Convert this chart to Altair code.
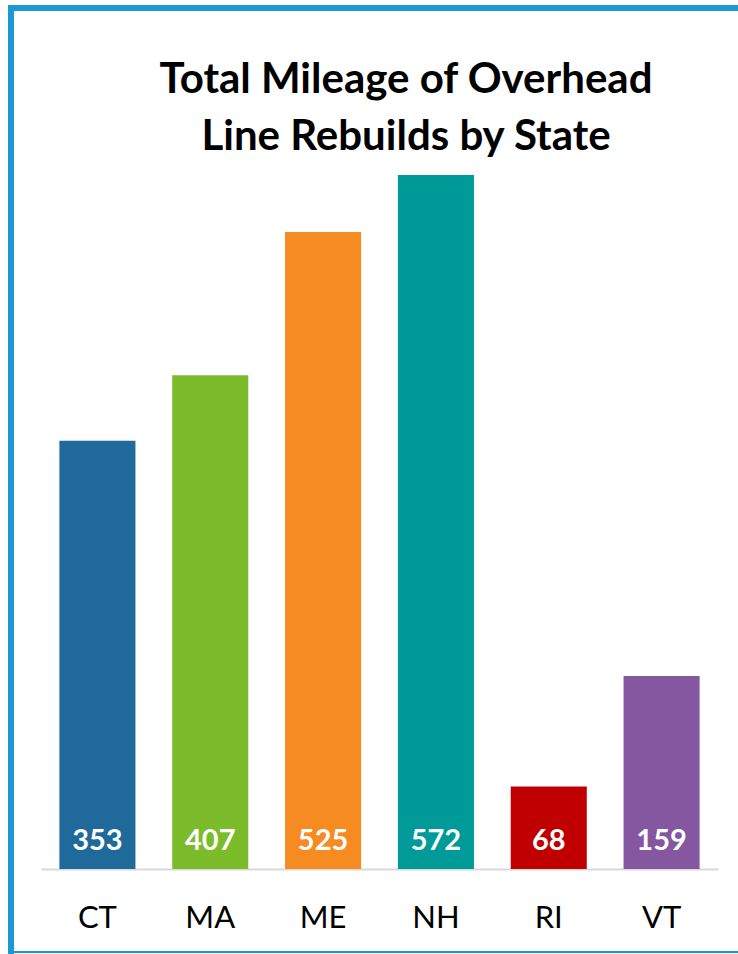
import altair as alt
import pandas as pd

states = ["CT", "MA", "ME", "NH", "RI", "VT"]
miles = [353, 407, 525, 572, 68, 159]
colors = ["#1F6A9A", "#7CBB2A", "#F58B21", "#009A98", "#C00000", "#8557A1"]
title_text = "Total Mileage of Overhead\nLine Rebuilds by State"

df = pd.DataFrame({"state": states, "miles": miles})

W, H = 677, 694
PL, PT = 41, 175

xenc = alt.X("state:N", sort=states,
             scale=alt.Scale(paddingInner=0.326, paddingOuter=0.163),
             axis=alt.Axis(title=None, labelAngle=0, labelFont="Lato", labelFontSize=31,
                           labelColor="#000000", labelPadding=34, ticks=False,
                           domainColor="#D9D9D9", domainWidth=2))
yscale = alt.Scale(domain=[0, 572], nice=False, zero=True)

bars = alt.Chart(df).mark_bar().encode(
    x=xenc,
    y=alt.Y("miles:Q", scale=yscale, axis=None),
    color=alt.Color("state:N", scale=alt.Scale(domain=states, range=colors), legend=None),
)

labels = alt.Chart(df).mark_text(font="Lato", fontSize=29, fontWeight="bold", color="white",
                                 baseline="alphabetic", dy=-19).encode(
    x=alt.X("state:N", sort=states),
    y=alt.datum(0),
    text=alt.Text("miles:Q"),
)

one = pd.DataFrame({"k": [0]})
title = alt.Chart(one).mark_text(font="Lato", fontSize=42, fontWeight="bold", color="#000000",
                                 baseline="alphabetic", align="center", lineBreak="\n",
                                 lineHeight=57).encode(
    x=alt.value(365), y=alt.value(-82), text=alt.value(title_text))

left_line = alt.Chart(one).mark_rule(color="#1B98D5", strokeWidth=6).encode(
    x=alt.value(-30), y=alt.value(-168), y2=alt.value(779))
top_line = alt.Chart(one).mark_rule(color="#1B98D5", strokeWidth=6).encode(
    x=alt.value(-33), x2=alt.value(700), y=alt.value(-167))
bottom_line = alt.Chart(one).mark_rule(color="#1B98D5", strokeWidth=2).encode(
    x=alt.value(-33), x2=alt.value(700), y=alt.value(777))

chart = alt.layer(bars, labels, title, left_line, top_line, bottom_line).properties(
    width=W, height=H,
    autosize=alt.AutoSizeParams(type="none"),
    padding={"left": PL, "top": PT, "right": 738 - PL - W, "bottom": 954 - PT - H},
).configure_view(stroke=None)

chart.save("out.html", embed_options={"renderer": "svg", "actions": False})
